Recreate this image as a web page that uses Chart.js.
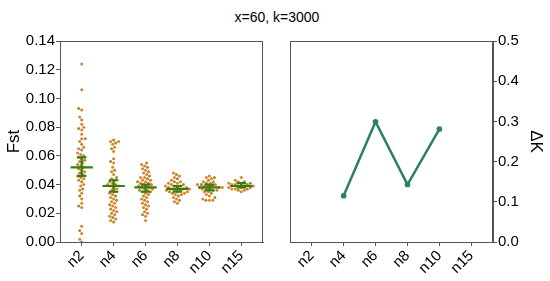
<!DOCTYPE html>
<html>
<head>
<meta charset="utf-8">
<script src="https://cdn.jsdelivr.net/npm/chart.js@4.4.1/dist/chart.umd.min.js"></script>
<style>
  body { margin: 0; background: #fff; }
  #wrap { position: relative; width: 550px; height: 281px; overflow: hidden; }
  #titulo { position: absolute; left: 0; top: 9px; width: 554px; text-align: center;
    font: 14px "Liberation Sans", Arial, sans-serif; color: #000; }
  canvas { position: absolute; top: 0; }
</style>
</head>
<body>
<div id="wrap">
  <div id="titulo">x=60, k=3000</div>
  <canvas id="graf_fst" width="275" height="281" style="left:0"></canvas>
  <canvas id="graf_dk" width="275" height="281" style="left:275px"></canvas>
</div>
<script>
// categorias
const categorias = ["n2", "n4", "n6", "n8", "n10", "n15"];

// Fst por replica
const fstN2 = [0.124, 0.106, 0.093, 0.092, 0.087, 0.085, 0.082, 0.080, 0.079, 0.078, 0.075, 0.072, 0.072, 0.070, 0.068, 0.066, 0.065, 0.064, 0.062, 0.061, 0.060, 0.059, 0.058, 0.057, 0.056, 0.055, 0.054, 0.053, 0.052, 0.051, 0.050, 0.049, 0.048, 0.047, 0.046, 0.045, 0.044, 0.043, 0.042, 0.040, 0.039, 0.037, 0.036, 0.034, 0.032, 0.030, 0.027, 0.025, 0.024, 0.011, 0.008, 0.006, 0.002, 0.000];
const fstN4 = [0.071, 0.070, 0.070, 0.069, 0.068, 0.066, 0.065, 0.063, 0.058, 0.056, 0.055, 0.052, 0.050, 0.049, 0.047, 0.045, 0.044, 0.043, 0.042, 0.041, 0.040, 0.040, 0.039, 0.039, 0.038, 0.037, 0.036, 0.035, 0.034, 0.033, 0.032, 0.031, 0.030, 0.029, 0.028, 0.027, 0.026, 0.025, 0.024, 0.023, 0.022, 0.021, 0.020, 0.019, 0.018, 0.017, 0.016, 0.015, 0.014];
const fstN6 = [0.055, 0.054, 0.053, 0.052, 0.051, 0.050, 0.049, 0.048, 0.047, 0.046, 0.045, 0.045, 0.044, 0.043, 0.043, 0.042, 0.042, 0.041, 0.041, 0.040, 0.040, 0.039, 0.039, 0.038, 0.038, 0.037, 0.037, 0.036, 0.036, 0.035, 0.035, 0.034, 0.033, 0.032, 0.031, 0.030, 0.029, 0.028, 0.027, 0.026, 0.025, 0.024, 0.023, 0.021, 0.020, 0.019, 0.018, 0.015];
const fstN8 = [0.048, 0.047, 0.046, 0.045, 0.044, 0.043, 0.042, 0.042, 0.041, 0.041, 0.040, 0.040, 0.039, 0.039, 0.039, 0.038, 0.038, 0.038, 0.037, 0.037, 0.037, 0.036, 0.036, 0.036, 0.035, 0.035, 0.035, 0.034, 0.034, 0.033, 0.033, 0.032, 0.031, 0.030, 0.029, 0.028, 0.027];
const fstN10 = [0.046, 0.045, 0.045, 0.044, 0.043, 0.042, 0.042, 0.041, 0.041, 0.040, 0.040, 0.040, 0.039, 0.039, 0.039, 0.038, 0.038, 0.038, 0.037, 0.037, 0.037, 0.036, 0.036, 0.035, 0.035, 0.034, 0.033, 0.032, 0.031, 0.030, 0.029, 0.029, 0.029];
const fstN15 = [0.045, 0.043, 0.042, 0.042, 0.041, 0.041, 0.041, 0.040, 0.040, 0.040, 0.039, 0.039, 0.039, 0.038, 0.038, 0.038, 0.037, 0.037, 0.037, 0.036, 0.036, 0.035];

// media y error (barras verdes)
const fstMedia = [0.052, 0.039, 0.038, 0.037, 0.038, 0.039];
const fstInf = [0.046, 0.035, 0.035, 0.035, 0.036, 0.038];
const fstSup = [0.059, 0.043, 0.040, 0.039, 0.040, 0.041];

// Delta K
const deltaK = [null, 0.115, 0.299, 0.143, 0.281, null];

const fuente = "'Liberation Sans', Arial, sans-serif";
const colorEje = "#555";

// marco completo alrededor del area
const marco = {
  id: "marco",
  afterDraw(chart) {
    const a = chart.chartArea;
    const ctx = chart.ctx;
    ctx.save();
    ctx.strokeStyle = colorEje;
    ctx.lineWidth = 1;
    ctx.strokeRect(a.left + 0.5, a.top + 0.5, a.right - a.left - 1, a.bottom - a.top);
    ctx.restore();
  }
};

// enjambre (beeswarm): cada punto al hueco libre mas cercano al centro
// escala aprox: 32 px por categoria, 201 px para 0.14
var pxX = 32, pxY = 201 / 0.14, diam = 3.3;
function enjambre(valores, indice) {
  var orden = valores.slice().sort(function (a, b) { return a - b; });
  var colocados = [];
  orden.forEach(function (v) {
    var yp = v * pxY;
    for (var k = 0; k < 200; k++) {
      var dx = (k % 2 === 0 ? 1 : -1) * Math.ceil(k / 2) * 0.5;
      var libre = colocados.every(function (p) {
        var a = p.xp - dx, b = p.yp - yp;
        return a * a + b * b >= diam * diam;
      });
      if (libre) { colocados.push({ xp: dx, yp: yp, v: v }); break; }
    }
  });
  return colocados.map(function (p) { return { x: indice + p.xp / pxX, y: p.v }; });
}

var todos = [fstN2, fstN4, fstN6, fstN8, fstN10, fstN15];
var puntosFst = [];
todos.forEach(function (g, i) { puntosFst = puntosFst.concat(enjambre(g, i)); });
var coloresFst = puntosFst.map(function (p, i) { return i % 3 === 0 ? "#a98a25" : "#e0802a"; });

// segmentos de media y error
var segMedia = [];
var segError = [];
for (var i = 0; i < categorias.length; i++) {
  segMedia.push({ x: i - 0.35, y: fstMedia[i] }, { x: i + 0.35, y: fstMedia[i] }, { x: i, y: null });
  segError.push({ x: i, y: fstInf[i] }, { x: i, y: fstSup[i] }, { x: i, y: null });
  segError.push({ x: i - 0.15, y: fstInf[i] }, { x: i + 0.15, y: fstInf[i] }, { x: i, y: null });
  segError.push({ x: i - 0.15, y: fstSup[i] }, { x: i + 0.15, y: fstSup[i] }, { x: i, y: null });
}

function ejeX() {
  return {
    type: "linear",
    min: -0.68,
    max: 5.68,
    afterBuildTicks: function (s) { s.ticks = categorias.map(function (c, i) { return { value: i }; }); },
    afterFit: function (s) { s.height = 39; },
    grid: { display: true, drawOnChartArea: false, drawTicks: true, tickLength: 4, color: colorEje },
    border: { display: true, color: colorEje },
    ticks: {
      autoSkip: false, minRotation: 45, maxRotation: 45, padding: 1, color: "#000",
      font: { family: fuente, size: 15 },
      callback: function (v) { return categorias[v]; }
    }
  };
}

new Chart(document.getElementById("graf_fst").getContext("2d"), {
  type: "scatter",
  data: {
    datasets: [
      { type: "line", data: segError, borderColor: "#3d7a12", borderWidth: 2.2, pointRadius: 0, spanGaps: false, order: 0 },
      { type: "line", data: segMedia, borderColor: "#3d7a12", borderWidth: 2.2, pointRadius: 0, spanGaps: false, order: 0 },
      { data: puntosFst, backgroundColor: coloresFst, borderWidth: 0, pointRadius: 1.5, order: 1 }
    ]
  },
  options: {
    responsive: false, animation: false, devicePixelRatio: 1,
    layout: { padding: { top: 41, right: 12, left: 0, bottom: 0 } },
    plugins: { legend: { display: false }, tooltip: { enabled: false } },
    scales: {
      x: ejeX(),
      y: {
        min: 0, max: 0.14,
        afterFit: function (s) { s.width = 60; },
        grid: { display: true, drawOnChartArea: false, drawTicks: true, tickLength: 4, color: colorEje },
        border: { display: true, color: colorEje },
        ticks: { stepSize: 0.02, padding: 1, color: "#000", font: { family: fuente, size: 15 },
          callback: function (v) { return v.toFixed(2); } },
        title: { display: true, text: "Fst", color: "#000", font: { family: fuente, size: 17 } }
      }
    }
  },
  plugins: [marco]
});

new Chart(document.getElementById("graf_dk").getContext("2d"), {
  type: "line",
  data: {
    datasets: [{
      data: deltaK.map(function (v, i) { return { x: i, y: v }; }),
      borderColor: "#2a8068", backgroundColor: "#2a8068", borderWidth: 2.5,
      pointRadius: 1.6, spanGaps: false
    }]
  },
  options: {
    responsive: false, animation: false, devicePixelRatio: 1,
    layout: { padding: { top: 41, left: 15, right: 0, bottom: 0 } },
    plugins: { legend: { display: false }, tooltip: { enabled: false } },
    scales: {
      x: ejeX(),
      y: {
        position: "right",
        min: 0, max: 0.5,
        afterFit: function (s) { s.width = 57; },
        grid: { display: true, drawOnChartArea: false, drawTicks: true, tickLength: 4, color: colorEje },
        border: { display: true, color: colorEje },
        ticks: { stepSize: 0.1, padding: 1, color: "#000", font: { family: fuente, size: 15 },
          callback: function (v) { return v.toFixed(1); } },
        title: { display: true, text: "ΔK", color: "#000", font: { family: fuente, size: 17 } }
      }
    }
  },
  plugins: [marco]
});
</script>
</body>
</html>
